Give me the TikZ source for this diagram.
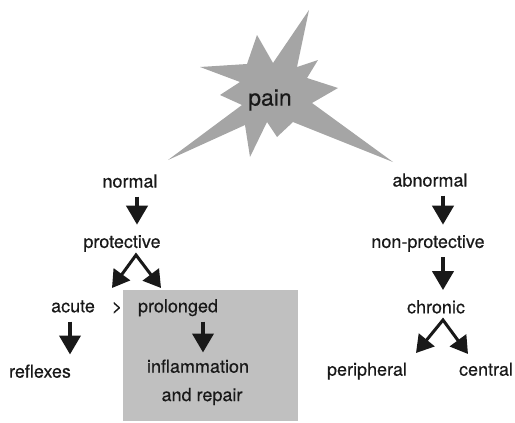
\documentclass[tikz,border=0pt]{standalone}
\usepackage{fontspec}
\setmainfont{TeX Gyre Heros}
\newfontfamily\termfont{TeX Gyre Heros}[FakeBold=0.3]
\usetikzlibrary{positioning,arrows.meta}

\definecolor{stargray}{RGB}{165,165,165}
\definecolor{boxgray}{RGB}{192,192,192}
\definecolor{inkgray}{RGB}{25,25,25}

\begin{document}
\begin{tikzpicture}[x=1pt,y=-1pt,
	term/.style={inner sep=0pt, text height=13pt, text depth=4pt, text=inkgray, font=\termfont\fontsize{18}{21}\selectfont},
	downarrow/.style={line width=4pt, inkgray, -{Triangle[length=19pt,width=21pt]}, shorten <=5pt, shorten >=10pt},
	splitarrow/.style={line width=3pt, inkgray, line join=miter, {Triangle[length=17pt,width=20pt]}-{Triangle[length=17pt,width=20pt]}}]
	\useasboundingbox (0,0) rectangle (515,423);
	
	% star and shaded box
	\fill[stargray] (200,67) -- (247,64) -- (257,35) -- (273,63) -- (309,10) -- (297,67)
		-- (318,60) -- (307,78) -- (338,88) -- (312,103) -- (393,162) -- (293,122)
		-- (277,137) -- (267,122) -- (250,157) -- (245,125) -- (168,160) -- (242,105)
		-- (220,95) -- (240,82) -- cycle;
	\fill[boxgray] (123,290) rectangle (298,421);
	
	\node [text=inkgray, inner sep=0pt, font=\termfont\fontsize{23}{26}\selectfont] (pain) at (270,100) {pain};
	
	\node [term] (normal) at (130,183) {normal};
	\node [term, below=43pt of normal, xshift=-8pt] (protective) {protective};
	\node [term, below=47pt of protective, xshift=-49pt] (acute) {acute};
	\node [term, below=47pt of protective, xshift=-5pt] (gt) {>};
	\node [term, below=47pt of protective, xshift=56pt] (prolonged) {prolonged};
	\node [term, below=48pt of acute, xshift=-33pt] (reflexes) {reflexes};
	\node [term, below=43pt of prolonged, xshift=20pt] (inflammation) {inflammation};
	\node [term, below=11pt of inflammation, xshift=4pt] (repair) {and repair};
	
	\node [term] (abnormal) at (430,182) {abnormal};
	\node [term, below=44pt of abnormal, xshift=-2pt] (nonprotective) {non-protective};
	\node [term, below=48pt of nonprotective, xshift=8pt] (chronic) {chronic};
	\node [term, below=45pt of chronic, xshift=-69pt] (peripheral) {peripheral};
	\node [term, below=45pt of chronic, xshift=50pt] (central) {central};
	
	\coordinate (psplit) at (136,255);
	\coordinate (pleft) at (112,288);
	\coordinate (pright) at (161,288);
	\coordinate (csplit) at (443,320);
	\coordinate (cleft) at (416,353);
	\coordinate (cright) at (468,354);
	
	\draw[downarrow] ([xshift=7pt]normal.south) -- ([xshift=15pt]protective.north);
	\draw[downarrow] ([xshift=-3pt]acute.south) -- ([xshift=30pt]reflexes.north);
	\draw[downarrow, shorten >=7pt] ([xshift=25pt]prolonged.south) -- ([xshift=5pt]inflammation.north);
	\draw[downarrow] ([xshift=13pt]abnormal.south) -- ([xshift=15pt]nonprotective.north);
	\draw[downarrow] ([xshift=15pt]nonprotective.south) -- ([xshift=7pt]chronic.north);
	
	\draw[splitarrow] (pleft) -- (psplit) -- (pright);
	\draw[splitarrow] (cleft) -- (csplit) -- (cright);
\end{tikzpicture}
\end{document}
